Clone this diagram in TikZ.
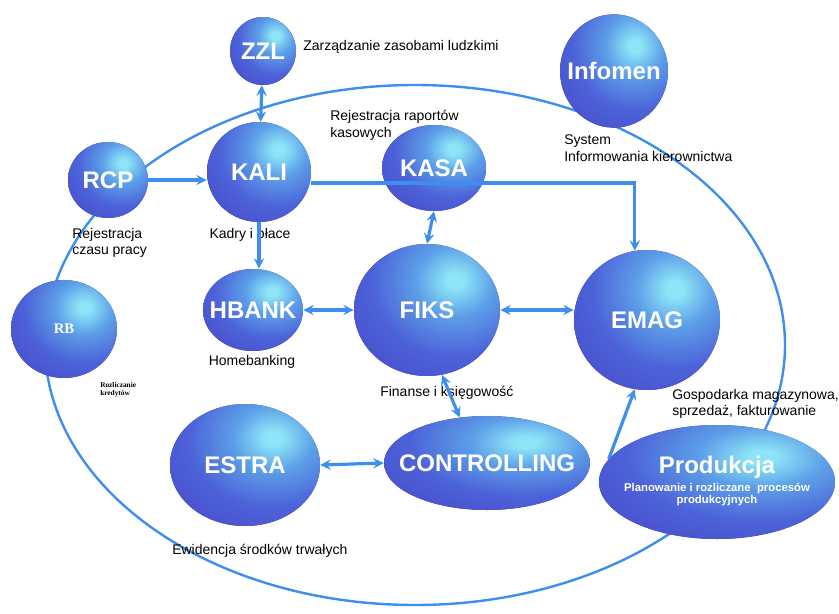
\documentclass[tikz,border=0pt]{standalone}
\usepackage{fontspec}
\setmainfont{Liberation Sans}
\newfontfamily\rbfont{Liberation Serif}
\usetikzlibrary{shapes.geometric, calc}
\definecolor{linkblue}{HTML}{3D8EEE}
\definecolor{sphhi}{HTML}{8CE4F6}
\definecolor{sphcy}{HTML}{5C9EE8}
\definecolor{sphmid}{HTML}{4C62D8}
\definecolor{sphdk}{HTML}{4846C4}
\definecolor{sphlo}{HTML}{3F30A4}
\pgfdeclareradialshading{glow}{\pgfpoint{0bp}{0bp}}{color(0bp)=(sphhi); color(2bp)=(sphhi); color(9bp)=(sphcy); color(19bp)=(sphmid); color(34bp)=(sphdk); color(50bp)=(sphlo)}
\newcommand{\subfont}{\fontsize{8.5}{9.5}\selectfont}

\begin{document}
\begin{tikzpicture}[x=0.75pt,y=-0.75pt]
        \tikzset{module/.style={ellipse, fill=sphlo, text=white, inner sep=-40pt,
                    font=\bfseries\fontsize{18}{20}\selectfont,
                    path picture={\shade[shading=glow] let \p1=(path picture bounding box.center),
                        \p2=(path picture bounding box.north east), \n1={\x2-\x1}, \n2={\y2-\y1},
                        \n3={\x1+0.38*\n1}, \n4={\y1+0.44*\n2} in
                        ({(\n3-1.5*\n1)*1pt},{(\n4-1.5*\n2)*1pt}) rectangle ({(\n3+1.5*\n1)*1pt},{(\n4+1.5*\n2)*1pt});}},
                 caption/.style={font=\fontsize{10.5}{12.5}\selectfont, align=left, inner sep=0pt},
                 link/.style={linkblue, line width=2.4pt, -stealth},
                 duplex/.style={linkblue, line width=2.4pt, stealth-stealth}}
        \useasboundingbox (0,0) rectangle (839,614);
        \draw[linkblue, line width=1.8pt] (415,345) ellipse [x radius=277.5pt, y radius=195pt];
        \node[module, minimum width=49.5pt, minimum height=51pt] (zzl) at (263,51) {ZZL};
        \node[module, minimum width=81pt, minimum height=85pt] (infomen) at (614,71) {Infomen};
        \node[module, minimum width=60pt, minimum height=57pt] (rcp) at (108,180) {RCP};
        \node[module, minimum width=78pt, minimum height=75pt] (kali) at (259,172) {KALI};
        \node[module, minimum width=78pt, minimum height=64.5pt] (kasa) at (434,168) {KASA};
        \node[module, minimum width=79.5pt, minimum height=73.5pt, font=\rbfont\bfseries\fontsize{11}{12}\selectfont] (rb) at (64,329) {RB};
        \node[module, minimum width=75pt, minimum height=61.5pt] (hbank) at (253,310) {HBANK};
        \node[module, minimum width=109.5pt, minimum height=99pt] (fiks) at (427,310) {FIKS};
        \node[module, minimum width=109.5pt, minimum height=105pt] (emag) at (647,320) {EMAG};
        \node[module, minimum width=112.5pt, minimum height=91.5pt] (estra) at (245,465) {ESTRA};
        \node[module, minimum width=154.5pt, minimum height=70.5pt] (controlling) at (487,463) {CONTROLLING};
        \node[module, minimum width=177pt, minimum height=85.5pt, align=center] (prod) at (717,482)
            {Produkcja\\[-2pt]\subfont\begin{tabular}{@{}c@{}}Planowanie i rozliczane\ \ procesów\\produkcyjnych\end{tabular}};
        \node[caption, anchor=west] (zzltxt) at (303,47) {Zarządzanie zasobami ludzkimi};
        \node[caption, anchor=west] (kasatxt) at (330,125) {Rejestracja raportów\\kasowych};
        \node[caption, anchor=west] (infotxt) at (564,148) {System\\Informowania kierownictwa};
        \node[caption, anchor=west] (rcptxt) at (72,243) {Rejestracja\\czasu pracy};
        \node[caption] (kalitxt) at (250,235) {Kadry i płace};
        \node[caption] (hbanktxt) at (252,362) {Homebanking};
        \node[caption, anchor=west] (fikstxt) at (380,393) {Finanse i księgowość};
        \node[caption, anchor=west] (emagtxt) at (672,404) {Gospodarka magazynowa,\\sprzedaż, fakturowanie};
        \node[caption, anchor=west] (estratxt) at (172,551) {Ewidencja środków trwałych};
        \node[caption, anchor=west, font=\rbfont\bfseries\fontsize{5.5}{6}\selectfont] (rbtxt) at (100,390) {Rozliczanie\\kredytów};
        \draw[duplex] (zzl) -- (kali);
        \draw[link] (rcp.east) -- (rcp.east -| kali.west);
        \draw[link] (kali.south) -- (kali.south |- hbank.north);
        \draw[link] ([yshift=-8.25pt]kali.east) -| (emag.100);
        \draw[duplex] (kasa.south) -- (fiks.north);
        \draw[duplex] (hbank.east) -- (hbank.east -| fiks.west);
        \draw[duplex] (fiks.east) -- (fiks.east -| emag.west);
        \draw[duplex] (fiks.-77) -- (controlling.121);
        \draw[duplex] (estra.east) -- (controlling.west);
        \draw[link] (prod.168) -- (emag.260);
    \end{tikzpicture}
\end{document}
